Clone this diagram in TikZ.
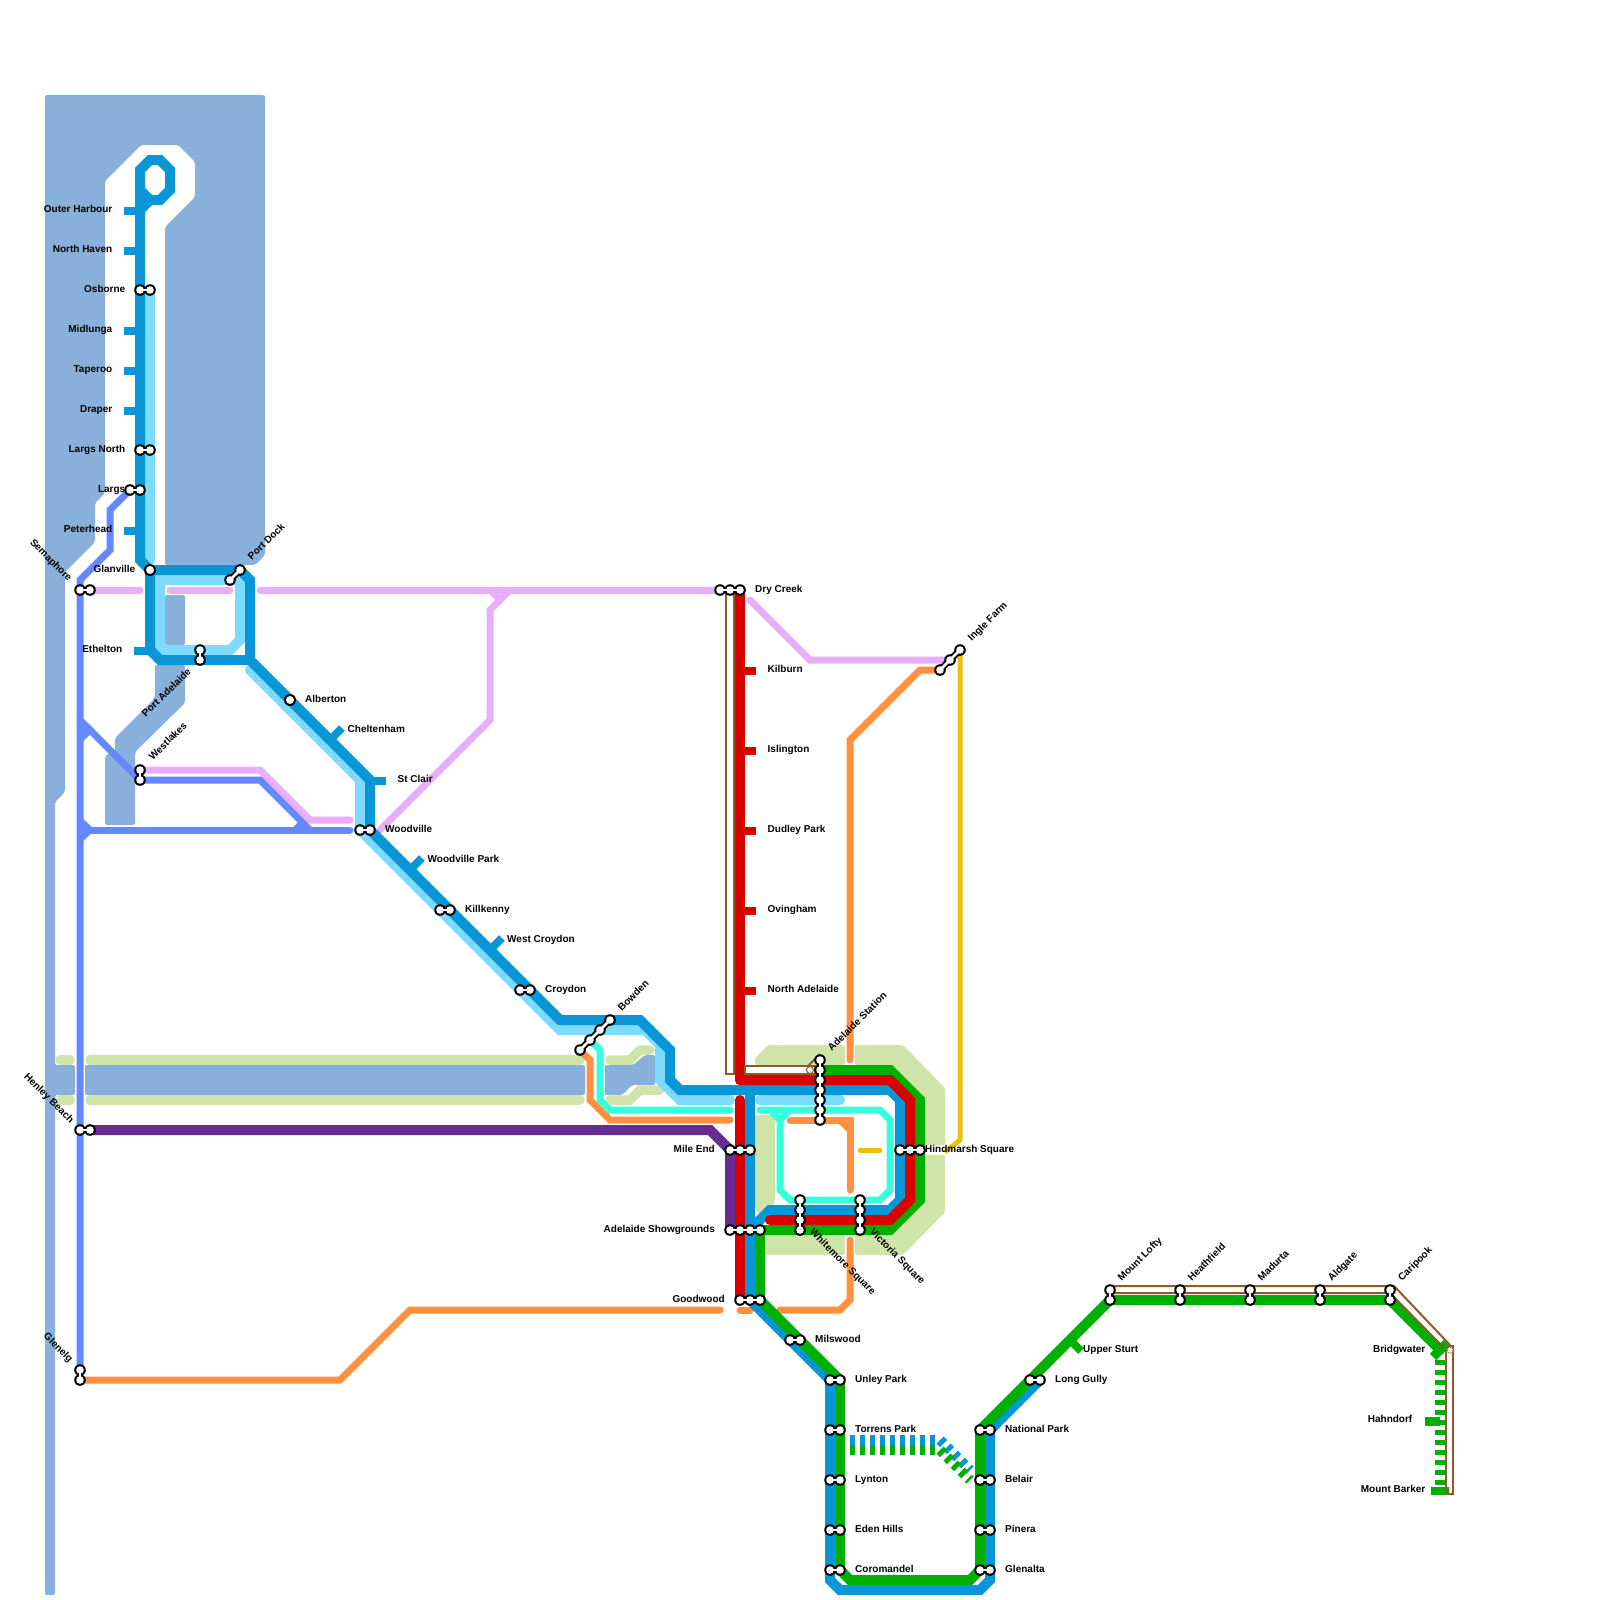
\documentclass[tikz,border=0pt]{standalone}
\usepackage{fontspec}
\setmainfont{Liberation Sans}
\usetikzlibrary{calc}
\definecolor{mapWater}{HTML}{89B0DB}
\definecolor{mapPark}{HTML}{D0E4A9}
\definecolor{mapBlue}{HTML}{0896D7}
\definecolor{mapSky}{HTML}{7DDBFF}
\definecolor{mapPeri}{HTML}{6688FF}
\definecolor{mapPink}{HTML}{E8AEFB}
\definecolor{mapOrange}{HTML}{FF9040}
\definecolor{mapRed}{HTML}{DB0000}
\definecolor{mapGreen}{HTML}{00B000}
\definecolor{mapPurple}{HTML}{662C90}
\definecolor{mapCyan}{HTML}{36FFDD}
\definecolor{mapBrown}{HTML}{8C5A2B}
\definecolor{mapYellow}{HTML}{E8C20C}
\newcommand{\stn}[3]{%
  \draw[stnwaist] (#1) -- (#2);
  \foreach \t in {0,...,#3}{\fill[stnrim] ($(#1)!\t/#3!(#2)$) circle (5.8);}
  \foreach \t in {0,...,#3}{\fill[stncore] ($(#1)!\t/#3!(#2)$) circle (3.8);}
  \draw[stnneck] (#1) -- (#2);
}
\begin{document}
\begin{tikzpicture}[
    x=1pt, y=-1pt,
    water/.style   = {fill=mapWater, draw=none, rounded corners=2pt},
    park/.style    = {fill=mapPark, draw=none, rounded corners=2pt},
    parkln/.style  = {draw=mapPark, line width=9.5pt, line cap=round, line join=miter},
    lnwide/.style  = {line width=10pt, line cap=round, line join=miter},
    lnthin/.style  = {line width=7pt, line cap=round, line join=miter},
    lnhair/.style  = {draw=mapBrown, line width=2pt},
    tickm/.style   = {line width=8pt},
    dashln/.style  = {line width=10pt, dash pattern=on 5pt off 5pt},
    stnrim/.style  = {black},
    stncore/.style = {white},
    stnneck/.style = {white, line width=2.6pt},
    stnwaist/.style= {black, line width=6.4pt},
    lbl/.style     = {font=\fontsize{10}{12}\selectfont\bfseries, inner sep=0pt, text height=7.2pt, text depth=2pt, text=black},
    lblE/.style    = {lbl, anchor=east},
    lblW/.style    = {lbl, anchor=west},
    lblUp/.style   = {lbl, anchor=west, rotate=45},
    lblDn/.style   = {lbl, anchor=west, rotate=-45},
    lblBk/.style   = {lbl, anchor=east, rotate=-45}
  ]
  \useasboundingbox (0,0) rectangle (1600,1600);

  \fill[water] (45,95) -- (265,95) -- (265,555) -- (255,565) -- (165,565) -- (165,227) -- (195,197) -- (195,162) -- (178,145) -- (141,145) -- (105,181) -- (105,493) -- (95,503) -- (95,542) -- (65,572) -- (65,792) -- (55,802) -- (55,1065) -- (75,1065) -- (75,1095) -- (55,1095) -- (55,1595) -- (45,1595) -- cycle;
  \fill[water] (165,595) rectangle (185,645);
  \fill[water] (155,665) -- (185,665) -- (185,703) -- (135,752) -- (135,825) -- (105,825) -- (105,757) -- (108,753) -- (115,753) -- (115,738) -- (155,698) -- cycle;
  \fill[water] (85,1065) rectangle (585,1095);
  \fill[water] (605,1065) -- (633,1065) -- (645,1055) -- (655,1055) -- (655,1085) -- (632,1085) -- (622,1095) -- (605,1095) -- cycle;

  \draw[parkln] (60,1060) -- (70,1060);
  \draw[parkln] (60,1100) -- (70,1100);
  \draw[parkln] (90,1060) -- (580,1060);
  \draw[parkln] (90,1100) -- (580,1100);
  \draw[parkln] (610,1060) -- (630,1060) -- (640,1050) -- (650,1050);
  \draw[parkln] (610,1100) -- (630,1100) -- (640,1090) -- (660,1090);
  \fill[park] (755,1058) -- (768,1045) -- (845,1045) -- (845,1065) -- (755,1065) -- cycle;
  \fill[park] (855,1045) -- (903,1045) -- (945,1088) -- (945,1145) -- (920,1145) -- (920,1100) -- (855,1065) -- cycle;
  \fill[park] (925,1155) -- (945,1155) -- (945,1212) -- (903,1255) -- (855,1255) -- (855,1235) -- (890,1235) -- (925,1200) -- cycle;
  \fill[park] (765,1235) rectangle (845,1255);
  \fill[park] (755,1115) -- (775,1115) -- (775,1202) -- (762,1215) -- (755,1210) -- cycle;

  \draw[mapPink, lnthin] (90,590) -- (140,590);
  \draw[mapPink, lnthin] (170,590) -- (230,590);
  \draw[mapPink, lnthin] (260,590) -- (720,590);
  \draw[mapPink, lnthin] (510,590) -- (490,610) -- (490,720) -- (380,830);
  \draw[mapPink, lnthin] (490,590) -- (500,600);
  \draw[mapPink, lnthin] (750,600) -- (810,660) -- (950,660);
  \draw[mapPink, lnthin] (140,770) -- (260,770) -- (310,820) -- (350,820);

  \draw[mapPeri, lnthin] (80,1370) -- (80,580) -- (110,550) -- (110,510) -- (130,490);
  \draw[mapPeri, lnthin] (80,720) -- (140,780) -- (260,780) -- (310,830);
  \draw[mapPeri, lnthin] (90,830) -- (350,830);
  \fill[mapPeri] (80,716) -- (95,730) -- (80,744) -- cycle;
  \fill[mapPeri] (80,816) -- (95,830) -- (80,844) -- cycle;
  \fill[mapPeri] (288,833) -- (300,820) -- (312,833) -- cycle;

  \draw[mapYellow, line width=5pt, line join=miter] (960,650) -- (960,1140) -- (945,1152);
  \draw[mapYellow, line width=5pt, line cap=round] (860,1150) -- (880,1150);

  \draw[mapOrange, lnthin] (85,1380) -- (340,1380) -- (410,1310) -- (720,1310);
  \draw[mapOrange, lnthin] (740,1310) -- (750,1310);
  \draw[mapOrange, lnthin] (780,1310) -- (840,1310) -- (850,1300) -- (850,1240);
  \draw[mapOrange, lnthin] (790,1120) -- (850,1120) -- (850,1190);
  \draw[mapOrange, lnthin] (840,1120) -- (850,1130);
  \draw[mapOrange, lnthin] (850,1060) -- (850,740) -- (920,670) -- (940,670);
  \draw[mapOrange, lnthin] (580,1050) -- (590,1060) -- (590,1100) -- (610,1120) -- (730,1120);

  \draw[mapCyan, lnthin] (590,1040) -- (600,1050) -- (600,1100) -- (610,1110) -- (730,1110);
  \draw[mapCyan, lnthin] (760,1110) -- (880,1110) -- (890,1120) -- (890,1190) -- (880,1200) -- (790,1200) -- (780,1190) -- (780,1120) -- (770,1110);
  \draw[mapCyan, lnthin] (790,1110) -- (780,1120);

  \draw[mapSky, lnwide] (150,290) -- (150,560);
  \draw[mapSky, lnwide] (160,580) -- (240,580) -- (240,640) -- (230,650) -- (160,650) -- cycle;
  \draw[mapSky, lnwide] (250,670) -- (360,780) -- (360,830) -- (560,1030) -- (645,1030) -- (660,1045) -- (660,1080) -- (680,1100) -- (730,1100);
  \draw[mapSky, lnwide] (760,1100) -- (840,1100);

  \draw[mapPurple, lnwide] (90,1130) -- (710,1130) -- (730,1150) -- (730,1230);

  \draw[mapBlue, lnwide] (140,210) -- (150,200) -- (160,200) -- (170,190) -- (170,170) -- (160,160) -- (150,160) -- (140,170) -- (140,560) -- (150,570) -- (240,570) -- (250,580) -- (250,660) -- (370,780) -- (370,830) -- (560,1020) -- (640,1020) -- (670,1050) -- (670,1080) -- (680,1090) -- (890,1090) -- (900,1100) -- (900,1200) -- (890,1210) -- (770,1210) -- (750,1230);
  \draw[mapBlue, lnwide] (140,190) -- (150,200);
  \draw[mapBlue, lnwide] (150,570) -- (150,650) -- (160,660) -- (250,660);
  \draw[mapBlue, lnwide] (750,1090) -- (750,1300) -- (830,1380) -- (830,1580) -- (840,1590) -- (980,1590) -- (990,1580) -- (990,1430) -- (1040,1380);
  \foreach \y in {211,251,331,371,411,531}{\draw[mapBlue, tickm] (124,\y) -- (140,\y);}
  \draw[mapBlue, tickm] (134,651) -- (150,651);
  \draw[mapBlue, tickm] (370,781) -- (386,781);
  \draw[mapBlue, tickm] (330,740) -- (342,728);
  \draw[mapBlue, tickm] (410,870) -- (422,858);
  \draw[mapBlue, tickm] (490,950) -- (502,938);
  \draw[mapBlue, dashln] (850,1440) -- (935,1440);
  \draw[mapBlue, dashln] (940,1440) -- (970,1470);

  \draw[mapGreen, lnwide] (820,1070) -- (890,1070) -- (920,1100) -- (920,1200) -- (890,1230) -- (760,1230) -- (760,1300) -- (840,1380) -- (840,1570) -- (850,1580) -- (970,1580) -- (980,1570) -- (980,1430) -- (1110,1300) -- (1390,1300) -- (1440,1350);
  \draw[mapGreen, tickm] (1070,1340) -- (1081,1351);
  \draw[mapGreen, line width=9pt] (1433,1357) -- (1447,1343);
  \draw[mapGreen, line width=9pt] (1425,1421) -- (1440,1421);
  \draw[mapGreen, tickm] (1431,1491) -- (1449,1491);
  \draw[mapGreen, dashln] (1440,1360) -- (1440,1490);
  \draw[mapGreen, dashln] (850,1450) -- (935,1450);
  \draw[mapGreen, dashln] (940,1450) -- (970,1480);

  \draw[mapRed, lnwide] (740,590) -- (740,1080);
  \draw[mapRed, lnwide] (740,1080) -- (890,1080) -- (910,1100) -- (910,1200) -- (890,1220) -- (770,1220);
  \draw[mapRed, lnwide] (740,1100) -- (740,1300);
  \foreach \y in {671,751,831,911,991}{\draw[mapRed, tickm] (740,\y) -- (756,\y);}

  \draw[lnhair] (726,590) -- (726,1074) -- (734,1074) -- (734,590);
  \draw[lnhair, fill=white] (745,1066) -- (815,1066) -- (815,1074) -- (745,1074) -- cycle;
  \draw[lnhair] (808,1066) -- (820,1054);
  \draw[lnhair, line width=1pt, fill=white] (810,1070) circle (3.5);
  \draw[lnhair] (1110,1286) -- (1394,1286) -- (1450,1345);
  \draw[lnhair] (1110,1293) -- (1390,1293) -- (1444,1348);
  \draw[lnhair] (1446,1350) -- (1446,1494) -- (1453,1494) -- (1453,1346) -- (1448,1346);
  \draw[lnhair, line width=1pt, fill=white, densely dotted] (1450,1350) circle (3);

  \stn{140,290}{150,290}{1}
  \stn{140,450}{150,450}{1}
  \stn{130,490}{140,490}{1}
  \stn{80,590}{90,590}{1}
  \stn{150,570}{150,570}{1}
  \stn{230,580}{240,570}{1}
  \stn{200,650}{200,660}{1}
  \stn{290,700}{290,700}{1}
  \stn{140,770}{140,780}{1}
  \stn{360,830}{370,830}{1}
  \stn{440,910}{450,910}{1}
  \stn{520,990}{530,990}{1}
  \stn{580,1050}{610,1020}{3}
  \stn{720,590}{740,590}{2}
  \stn{940,670}{960,650}{2}
  \stn{820,1060}{820,1120}{6}
  \stn{730,1150}{750,1150}{2}
  \stn{900,1150}{920,1150}{2}
  \stn{800,1200}{800,1230}{3}
  \stn{860,1200}{860,1230}{3}
  \stn{730,1230}{760,1230}{3}
  \stn{740,1300}{760,1300}{2}
  \stn{790,1340}{800,1340}{1}
  \stn{80,1130}{90,1130}{1}
  \stn{80,1370}{80,1380}{1}
  \stn{1030,1380}{1040,1380}{1}
  \foreach \y in {1380,1430,1480,1530,1570}{\stn{830,\y}{840,\y}{1}}
  \foreach \y in {1430,1480,1530,1570}{\stn{980,\y}{990,\y}{1}}
  \foreach \x in {1110,1180,1250,1320,1390}{\stn{\x,1290}{\x,1300}{1}}

  \node[lblE] (outerHarbour) at (112.5,210) {Outer Harbour};
  \node[lblE] (northHaven) at (112.5,250) {North Haven};
  \node[lblE] (osborne) at (125.5,290) {Osborne};
  \node[lblE] (midlunga) at (112.5,330) {Midlunga};
  \node[lblE] (taperoo) at (112.5,370) {Taperoo};
  \node[lblE] (draper) at (112.5,410) {Draper};
  \node[lblE] (largsNorth) at (125.5,450) {Largs North};
  \node[lblE] (largs) at (125.5,490) {Largs};
  \node[lblE] (peterhead) at (112.5,530) {Peterhead};
  \node[lblE] (glanville) at (135.5,570) {Glanville};
  \node[lblE] (ethelton) at (122.5,650) {Ethelton};
  \node[lblBk] (semaphore) at (70,580) {Semaphore};
  \node[lblBk] (henleyBeach) at (72,1122) {Henley Beach};
  \node[lblBk] (glenelg) at (71,1361) {Glenelg};
  \node[lblUp] (portDock) at (250,559) {Port Dock};
  \node[lblUp] (portAdelaide) at (144,716) {Port Adelaide};
  \node[lblUp] (westlakes) at (151,759) {Westlakes};
  \node[lblW] (alberton) at (305,700) {Alberton};
  \node[lblW] (cheltenham) at (347.5,730) {Cheltenham};
  \node[lblW] (stClair) at (397.5,780) {St Clair};
  \node[lblW] (woodville) at (385,830) {Woodville};
  \node[lblW] (woodvillePark) at (427.5,860) {Woodville Park};
  \node[lblW] (killkenny) at (465,910) {Killkenny};
  \node[lblW] (westCroydon) at (507,940) {West Croydon};
  \node[lblW] (croydon) at (545,990) {Croydon};
  \node[lblUp] (bowden) at (620,1010) {Bowden};
  \node[lblW] (dryCreek) at (755,590) {Dry Creek};
  \node[lblW] (kilburn) at (767.5,670) {Kilburn};
  \node[lblW] (islington) at (767.5,750) {Islington};
  \node[lblW] (dudleyPark) at (767.5,830) {Dudley Park};
  \node[lblW] (ovingham) at (767.5,910) {Ovingham};
  \node[lblW] (northAdelaide) at (767.5,990) {North Adelaide};
  \node[lblUp] (ingleFarm) at (970,640) {Ingle Farm};
  \node[lblUp] (adelaideStation) at (830,1050) {Adelaide Station};
  \node[lblE] (mileEnd) at (715,1150) {Mile End};
  \node[lblW] (hindmarshSquare) at (925,1150) {Hindmarsh Square};
  \node[lblE] (showgrounds) at (715,1230) {Adelaide Showgrounds};
  \node[lblE] (goodwood) at (725,1300) {Goodwood};
  \node[lblDn] (whitemoreSquare) at (811,1231) {Whitemore Square};
  \node[lblDn] (victoriaSquare) at (871,1231) {Victoria Square};
  \node[lblW] (milswood) at (815,1340) {Milswood};
  \node[lblW] (unleyPark) at (855,1380) {Unley Park};
  \node[lblW] (torrensPark) at (855,1430) {Torrens Park};
  \node[lblW] (lynton) at (855,1480) {Lynton};
  \node[lblW] (edenHills) at (855,1530) {Eden Hills};
  \node[lblW] (coromandel) at (855,1570) {Coromandel};
  \node[lblW] (nationalPark) at (1005,1430) {National Park};
  \node[lblW] (belair) at (1005,1480) {Belair};
  \node[lblW] (pinera) at (1005,1530) {Pinera};
  \node[lblW] (glenalta) at (1005,1570) {Glenalta};
  \node[lblW] (longGully) at (1055,1380) {Long Gully};
  \node[lblW] (upperSturt) at (1083,1350) {Upper Sturt};
  \node[lblUp] (mountLofty) at (1120,1280) {Mount Lofty};
  \node[lblUp] (heathfield) at (1190,1280) {Heathfield};
  \node[lblUp] (madurta) at (1260,1280) {Madurta};
  \node[lblUp] (aldgate) at (1330,1280) {Aldgate};
  \node[lblUp] (caripook) at (1400,1280) {Caripook};
  \node[lblE] (bridgwater) at (1425.5,1350) {Bridgwater};
  \node[lblE] (hahndorf) at (1412.5,1420) {Hahndorf};
  \node[lblE] (mountBarker) at (1425.5,1490) {Mount Barker};
\end{tikzpicture}
\end{document}
